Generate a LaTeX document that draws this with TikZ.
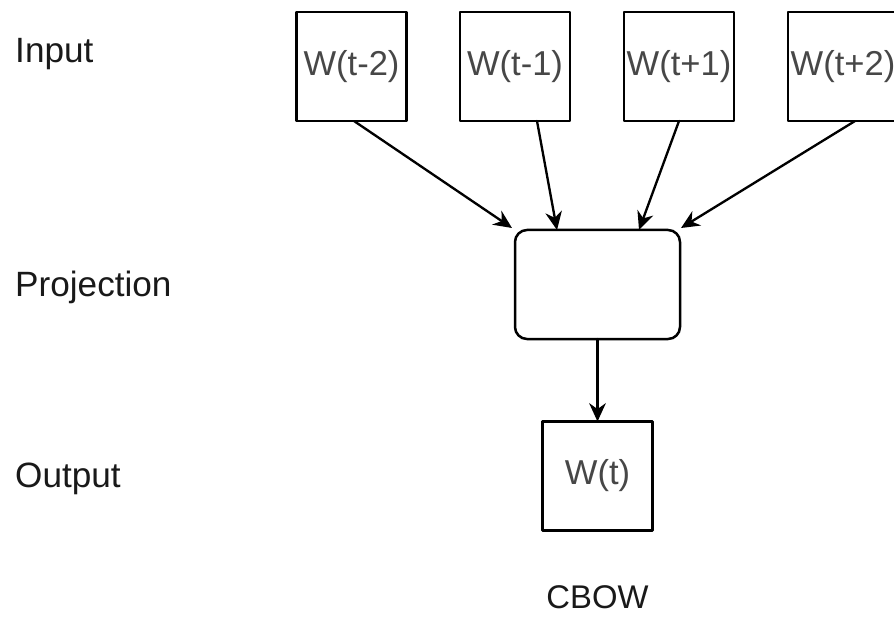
\documentclass[tikz,border=0pt]{standalone}
\usepackage{fontspec}
\setmainfont{Liberation Sans}
\usetikzlibrary{arrows.meta}

\begin{document}
\begin{tikzpicture}[line cap=round,line join=round,>={Stealth[length=0.55cm,width=0.5cm]},x=0.03cm,y=-0.03cm,
  wbox/.style={draw,line width=0.075cm,minimum width=3.3cm,minimum height=3.27cm,inner sep=0pt,outer sep=0pt,text=black!72,font=\fontsize{29.5}{35}\selectfont},
  projbox/.style={draw,line width=0.075cm,rounded corners=0.36cm,minimum width=4.95cm,minimum height=3.27cm,inner sep=0pt,outer sep=0pt},
  layer/.style={anchor=base west,inner sep=0pt,text=black!90,font=\fontsize{30}{36}\selectfont},
  link/.style={->,line width=0.07cm}]
\clip(0,0) rectangle (894,618);
% input words
\node[wbox] (tm2) at (351.5,66.5) {W(t-2)};
\node[wbox] (tm1) at (515,66.5) {W(t-1)};
\node[wbox] (tp1) at (679,66.5) {W(t+1)};
\node[wbox] (tp2) at (843,66.5) {W(t+2)};
% projection and output
\node[projbox] (proj) at (597.5,284.5) {};
\node[wbox] (wt) at (597.5,476) {W(t)};
% layer names
\node[layer] (input) at (15,63) {Input};
\node[layer] (projection) at (15,296) {Projection};
\node[layer] (output) at (15,487) {Output};
\node[anchor=base,inner sep=0pt,text=black!90,font=\fontsize{28}{34}\selectfont] (cbow) at (597.5,608) {CBOW};
% arrows
\draw[link] ([xshift=0.075cm]tm2.south) -- ([xshift=-0.09cm,yshift=0.06cm]proj.north west);
\draw[link] ([xshift=0.66cm]tm1.south) -- ([xshift=-1.215cm]proj.north);
\draw[link] (tp1.south) -- ([xshift=1.245cm]proj.north);
\draw[link] ([xshift=0.36cm]tp2.south) -- ([xshift=0.03cm,yshift=0.06cm]proj.north east);
\draw[link] (proj) -- (wt);
\end{tikzpicture}
\end{document}
